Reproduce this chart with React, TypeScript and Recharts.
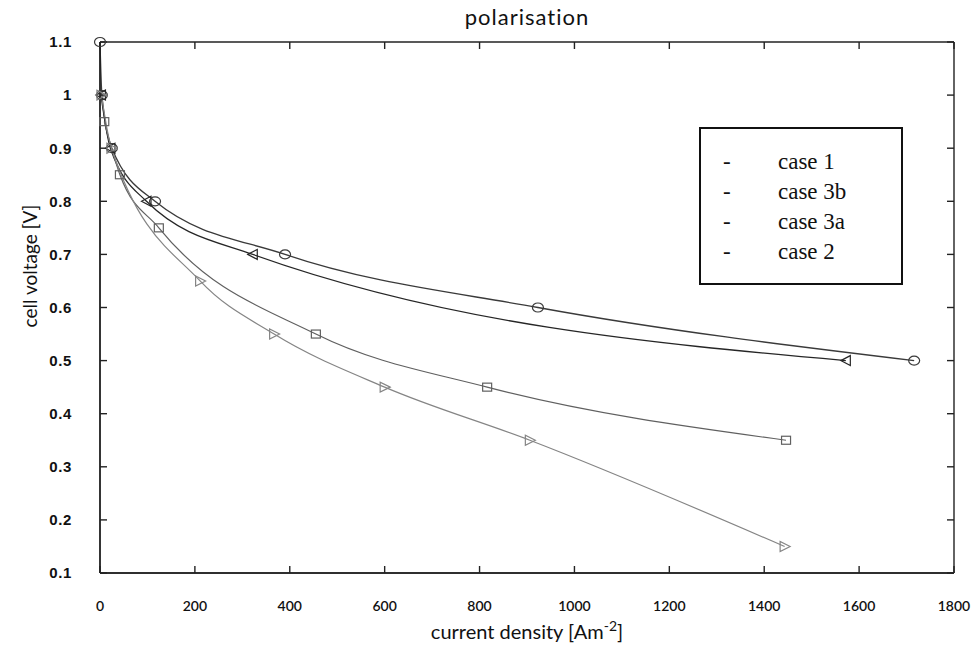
import React from 'react';
import { LineChart, Line, XAxis, YAxis } from 'recharts';

// ---- data ----
const seriesNames = ['case 1', 'case 3b', 'case 3a', 'case 2'];

const case1X = [0, 4, 25, 116, 390, 923, 1716];
const case1Y = [1.1, 1.0, 0.9, 0.8, 0.7, 0.6, 0.5];

const case3bX = [2, 22, 98, 322, 1572];
const case3bY = [1.0, 0.9, 0.8, 0.7, 0.5];

const case3aX = [9, 42, 124, 455, 816, 1446];
const case3aY = [0.95, 0.85, 0.75, 0.55, 0.45, 0.35];

const case2X = [3, 24, 211, 367, 600, 906, 1443];
const case2Y = [1.0, 0.9, 0.65, 0.55, 0.45, 0.35, 0.15];

const xTicks = [0, 200, 400, 600, 800, 1000, 1200, 1400, 1600, 1800];
const yTicks = [0.1, 0.2, 0.3, 0.4, 0.5, 0.6, 0.7, 0.8, 0.9, 1.0, 1.1];

const toPoints = (xs: number[], ys: number[]) => xs.map((x, i) => ({ x, y: ys[i] }));

const case1 = toPoints(case1X, case1Y);
const case3b = toPoints(case3bX, case3bY);
const case3a = toPoints(case3aX, case3aY);
const case2 = toPoints(case2X, case2Y);

const C1 = '#3a3a3a';
const C3B = '#262626';
const C3A = '#606060';
const C2 = '#858585';

const circleDot = (color: string) => (p: any) => (
  <ellipse key={`c${p.index}`} cx={p.cx} cy={p.cy} rx={5.5} ry={4.5} fill="none" stroke={color} strokeWidth={1.2} />
);
const leftTriDot = (color: string) => (p: any) => (
  <path
    key={`l${p.index}`}
    d={`M${p.cx - 5},${p.cy} L${p.cx + 4.5},${p.cy - 5} L${p.cx + 4.5},${p.cy + 5} Z`}
    fill="none"
    stroke={color}
    strokeWidth={1.2}
  />
);
const rightTriDot = (color: string) => (p: any) => (
  <path
    key={`r${p.index}`}
    d={`M${p.cx + 5.5},${p.cy} L${p.cx - 4.5},${p.cy - 5} L${p.cx - 4.5},${p.cy + 5} Z`}
    fill="none"
    stroke={color}
    strokeWidth={1.2}
  />
);
const squareDot = (color: string) => (p: any) => (
  <rect key={`s${p.index}`} x={p.cx - 4.5} y={p.cy - 4} width={9} height={8} fill="none" stroke={color} strokeWidth={1.2} />
);

const axisColor = '#222';
const gill = "Lato, 'Noto Sans', sans-serif";
const emptyTick = () => <g />;
const tickLineStyle = { stroke: axisColor, strokeWidth: 1.4 };

const XTitle = (props: any) => {
  const vb = props.viewBox;
  return (
    <text x={vb.x + vb.width / 2} y={vb.y + 66} textAnchor="middle" fontFamily={gill} fontSize={20} fill="#111">
      current density [Am
      <tspan dy={-8} fontSize={14}>-2</tspan>
      <tspan dy={8}>]</tspan>
    </text>
  );
};

const YTitle = (props: any) => {
  const vb = props.viewBox;
  const cx = vb.x + 9;
  const cy = vb.y + 224;
  return (
    <text
      x={cx}
      y={cy}
      transform={`rotate(-90 ${cx} ${cy})`}
      textAnchor="middle"
      dominantBaseline="central"
      fontFamily={gill}
      fontSize={19}
      fill="#111"
    >
      cell voltage [V]
    </text>
  );
};

const legendRows = [seriesNames[0], seriesNames[1], seriesNames[2], seriesNames[3]];

export default function App() {
  return (
    <div style={{ position: 'absolute', left: 0, top: 0, width: 972, height: 649, background: '#fff' }}>
      <div
        style={{
          position: 'absolute',
          left: 0,
          width: 1054,
          top: 3,
          textAlign: 'center',
          fontFamily: gill,
          fontSize: 22,
          letterSpacing: 1,
          color: '#111',
        }}
      >
        polarisation
      </div>
      <LineChart width={972} height={649} margin={{ top: 42, right: 18, bottom: 36, left: 20 }}>
        <XAxis
          dataKey="x"
          type="number"
          domain={[0, 1800]}
          ticks={xTicks}
          height={40}
          tickLine={false}
          tickMargin={22}
          stroke={axisColor}
          strokeWidth={1.4}
          tick={{ fill: '#111', fontSize: 14, fontFamily: gill, fontWeight: 600 }}
          label={<XTitle />}
        />
        <XAxis
          xAxisId="bt"
          orientation="bottom"
          mirror
          dataKey="x"
          type="number"
          domain={[0, 1800]}
          ticks={xTicks}
          tick={emptyTick}
          tickLine={tickLineStyle}
          tickSize={7}
          stroke={axisColor}
          strokeWidth={1.4}
        />
        <XAxis
          xAxisId="top"
          orientation="top"
          mirror
          dataKey="x"
          type="number"
          domain={[0, 1800]}
          ticks={xTicks}
          tick={emptyTick}
          tickLine={tickLineStyle}
          tickSize={7}
          stroke={axisColor}
          strokeWidth={1.4}
        />
        <YAxis
          type="number"
          domain={[0.1, 1.1]}
          ticks={yTicks}
          width={80}
          tickLine={false}
          tickMargin={22}
          stroke={axisColor}
          strokeWidth={1.4}
          tickFormatter={(v: number) => String(Math.round(v * 10) / 10)}
          tick={{ fill: '#111', fontSize: 15, fontFamily: "'Liberation Sans', Arial, sans-serif", fontWeight: 700, letterSpacing: 0.6 }}
          label={<YTitle />}
        />
        <YAxis
          yAxisId="lt"
          orientation="left"
          mirror
          type="number"
          domain={[0.1, 1.1]}
          ticks={yTicks}
          tick={emptyTick}
          tickLine={tickLineStyle}
          tickSize={7}
          stroke={axisColor}
          strokeWidth={1.4}
        />
        <YAxis
          yAxisId="right"
          orientation="right"
          mirror
          type="number"
          domain={[0.1, 1.1]}
          ticks={yTicks}
          tick={emptyTick}
          tickLine={tickLineStyle}
          tickSize={7}
          stroke={axisColor}
          strokeWidth={1.4}
        />
        {/* invisible series that bind the frame axes to the same data */}
        <Line xAxisId="top" yAxisId="right" data={case1} dataKey="y" stroke="none" dot={false} activeDot={false} legendType="none" isAnimationActive={false} />
        <Line xAxisId="bt" yAxisId="lt" data={case1} dataKey="y" stroke="none" dot={false} activeDot={false} legendType="none" isAnimationActive={false} />
        <Line data={case1} dataKey="y" name={seriesNames[0]} type="monotone" stroke={C1} strokeWidth={1.3} dot={circleDot(C1)} isAnimationActive={false} />
        <Line data={case3b} dataKey="y" name={seriesNames[1]} type="monotone" stroke={C3B} strokeWidth={1.3} dot={leftTriDot(C3B)} isAnimationActive={false} />
        <Line data={case3a} dataKey="y" name={seriesNames[2]} type="monotone" stroke={C3A} strokeWidth={1.2} dot={squareDot(C3A)} isAnimationActive={false} />
        <Line data={case2} dataKey="y" name={seriesNames[3]} type="monotone" stroke={C2} strokeWidth={1.2} dot={rightTriDot(C2)} isAnimationActive={false} />
      </LineChart>
      <div
        style={{
          position: 'absolute',
          left: 699,
          top: 127,
          width: 204,
          height: 158,
          boxSizing: 'border-box',
          border: '2px solid #111',
          background: '#fff',
          paddingTop: 18,
          fontFamily: "'Liberation Serif', 'Times New Roman', serif",
          fontSize: 23,
          color: '#111',
        }}
      >
        {legendRows.map((name) => (
          <div key={name} style={{ position: 'relative', height: 30, lineHeight: '30px' }}>
            <span style={{ position: 'absolute', left: 22 }}>-</span>
            <span style={{ position: 'absolute', left: 77 }}>{name}</span>
          </div>
        ))}
      </div>
    </div>
  );
}
